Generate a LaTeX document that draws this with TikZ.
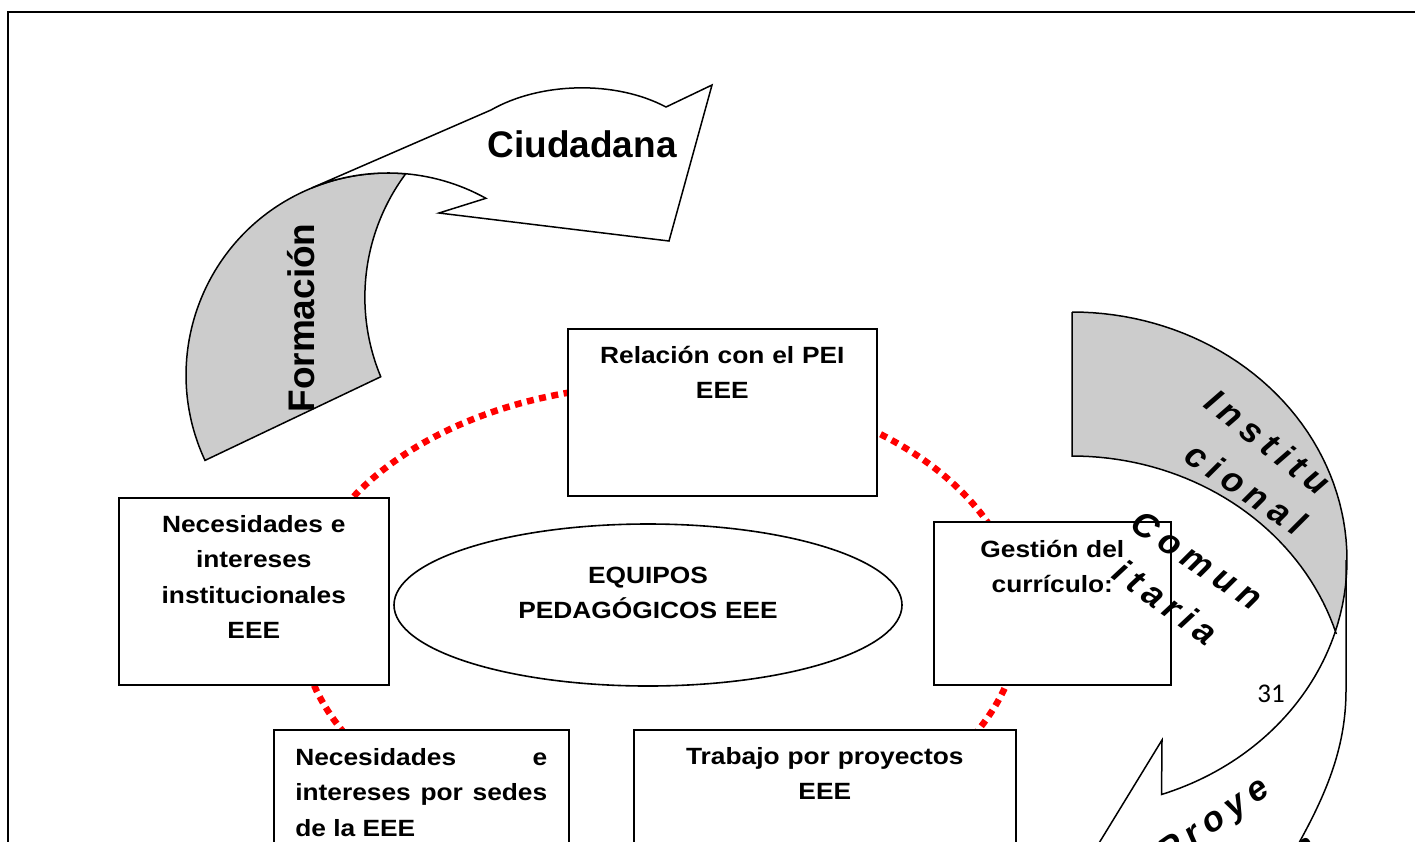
\documentclass[tikz,border=0pt]{standalone}
\usepackage{fontspec}
\setmainfont{Liberation Sans}
\newfontfamily\cajafont[FakeStretch=1.12]{Liberation Sans}
\newfontfamily\pagfont{Carlito}
\usetikzlibrary{positioning,shapes.geometric}
\setlength\parindent{0pt}
\tolerance=10000
\hyphenpenalty=10000

\tikzset{
  caja/.style={draw, line width=1.6pt, fill=white, anchor=north west, inner sep=0pt},
  texto/.style={font=\cajafont\fontsize{23.5pt}{35.5pt}\selectfont\bfseries, align=center, anchor=base, inner sep=0pt, text width=#1},
  texto/.default=230pt,
  elipse/.style={draw, ellipse, line width=1.6pt, fill=white, minimum width=508pt, minimum height=162pt, inner sep=0pt},
  titulo/.style={font=\fontsize{37pt}{44pt}\selectfont\bfseries, anchor=base, inner sep=0pt},
  arte/.style={font=\fontsize{35pt}{40pt}\selectfont\bfseries\itshape\addfontfeature{LetterSpace=20}, inner sep=0pt},
  cinta/.style={draw, line width=1.5pt, fill=black!20},
  flecha/.style={draw, line width=1.5pt, fill=white},
  rojo/.style={draw=red, line width=6.5pt, dash pattern=on 7pt off 5.5pt},
}

\begin{document}
\begin{tikzpicture}[x=1pt, y=-1pt]
  \useasboundingbox (0,0) rectangle (1415,841);
  \clip (0,0) rectangle (1415,841);

  % marco de la pagina
  \draw[line width=2pt] (8,900) -- (8,12) -- (1430,12);

  % anillo punteado
  \draw[rojo] (660,620) ellipse [x radius=360pt, y radius=235pt];

  % cajas
  \node[caja, minimum width=309pt, minimum height=167pt] (rel) at (567,328) {};
  \node[texto=300pt] (relT) at ([yshift=-35pt]rel.north) {Relación con el PEI\\EEE};

  \node[caja, minimum width=270pt, minimum height=187pt] (necI) at (118,497) {};
  \node[texto=260pt] (necIT) at ([yshift=-35pt]necI.north) {Necesidades e\\intereses\\institucionales\\EEE};

  \node[caja, minimum width=237pt, minimum height=163pt] (gest) at (933,521) {};
  \node[texto=230pt] (gestT) at ([yshift=-36pt]gest.north) {Gestión del\\currículo:};

  \node[caja, minimum width=295pt, minimum height=200pt] (necS) at (273,729) {};
  \node[texto=252pt, align=justify] (necST) at ([yshift=-36pt]necS.north) {Necesidades e intereses por sedes de la EEE};

  \node[caja, minimum width=382pt, minimum height=200pt] (trab) at (633,729) {};
  \node[texto=370pt] (trabT) at ([yshift=-35pt]trab.north) {Trabajo por proyectos\\EEE};

  \node[elipse] (equipos) at (648,605) {};
  \node[texto=480pt] (equiposT) at ([yshift=22pt]equipos.center) {EQUIPOS\\PEDAGÓGICOS EEE};

  % flecha formacion ciudadana
  \draw[cinta] (205,460.4) arc[start angle=205, end angle=85, radius=202pt]
    arc[start angle=143.4, end angle=202.6, radius=207pt] -- cycle;
  \draw[flecha] (312.3,187.7) -- (491,110) .. controls (540,82) and (615,80) .. (666,107)
    -- (712,85) -- (669,241) -- (439,213) -- (485.9,198.3)
    arc[start angle=61, end angle=112, radius=202pt] -- cycle;
  \node[titulo] (ciud) at (582,157) {Ciudadana};
  \node[titulo, rotate=90] (form) at (314,318) {Formación};

  % flecha institucional comunitaria
  \draw[cinta] (1072,312) -- (1072,456)
    -- plot[domain=90:17, samples=40] ({1072+276*cos(\x)}, {706-250*sin(\x)})
    -- plot[domain=-17:90, samples=50] ({1072+275*cos(\x)}, {560-248*sin(\x)}) -- cycle;
  \draw[line width=1.5pt] plot[domain=-17:-71, samples=40] ({1072+275*cos(\x)}, {560-248*sin(\x)})
    -- (1162,740) -- (1085,866);
  \draw[line width=1.5pt] (1346,560) -- (1346,690) .. controls (1346,745) and (1328,790) .. (1300,841) -- (1289,861);

  \node[arte, rotate=-38] (inst) at (1268,442) {Institu};
  \node[arte, rotate=-34] (cion) at (1246,488) {cional};
  \node[arte, rotate=-34] (comu) at (1197,560) {Comun};
  \node[arte, rotate=-36] (itar) at (1166,602) {itaria};
  \node[arte, rotate=35] (proy) at (1215,822) {Proye};
  \node[arte, rotate=35, anchor=base east] (proy2) at (1319,851) {cción};

  \node[font=\pagfont\fontsize{27pt}{30pt}\selectfont, anchor=base, inner sep=0pt] (pag) at (1271,702) {31};
\end{tikzpicture}
\end{document}
